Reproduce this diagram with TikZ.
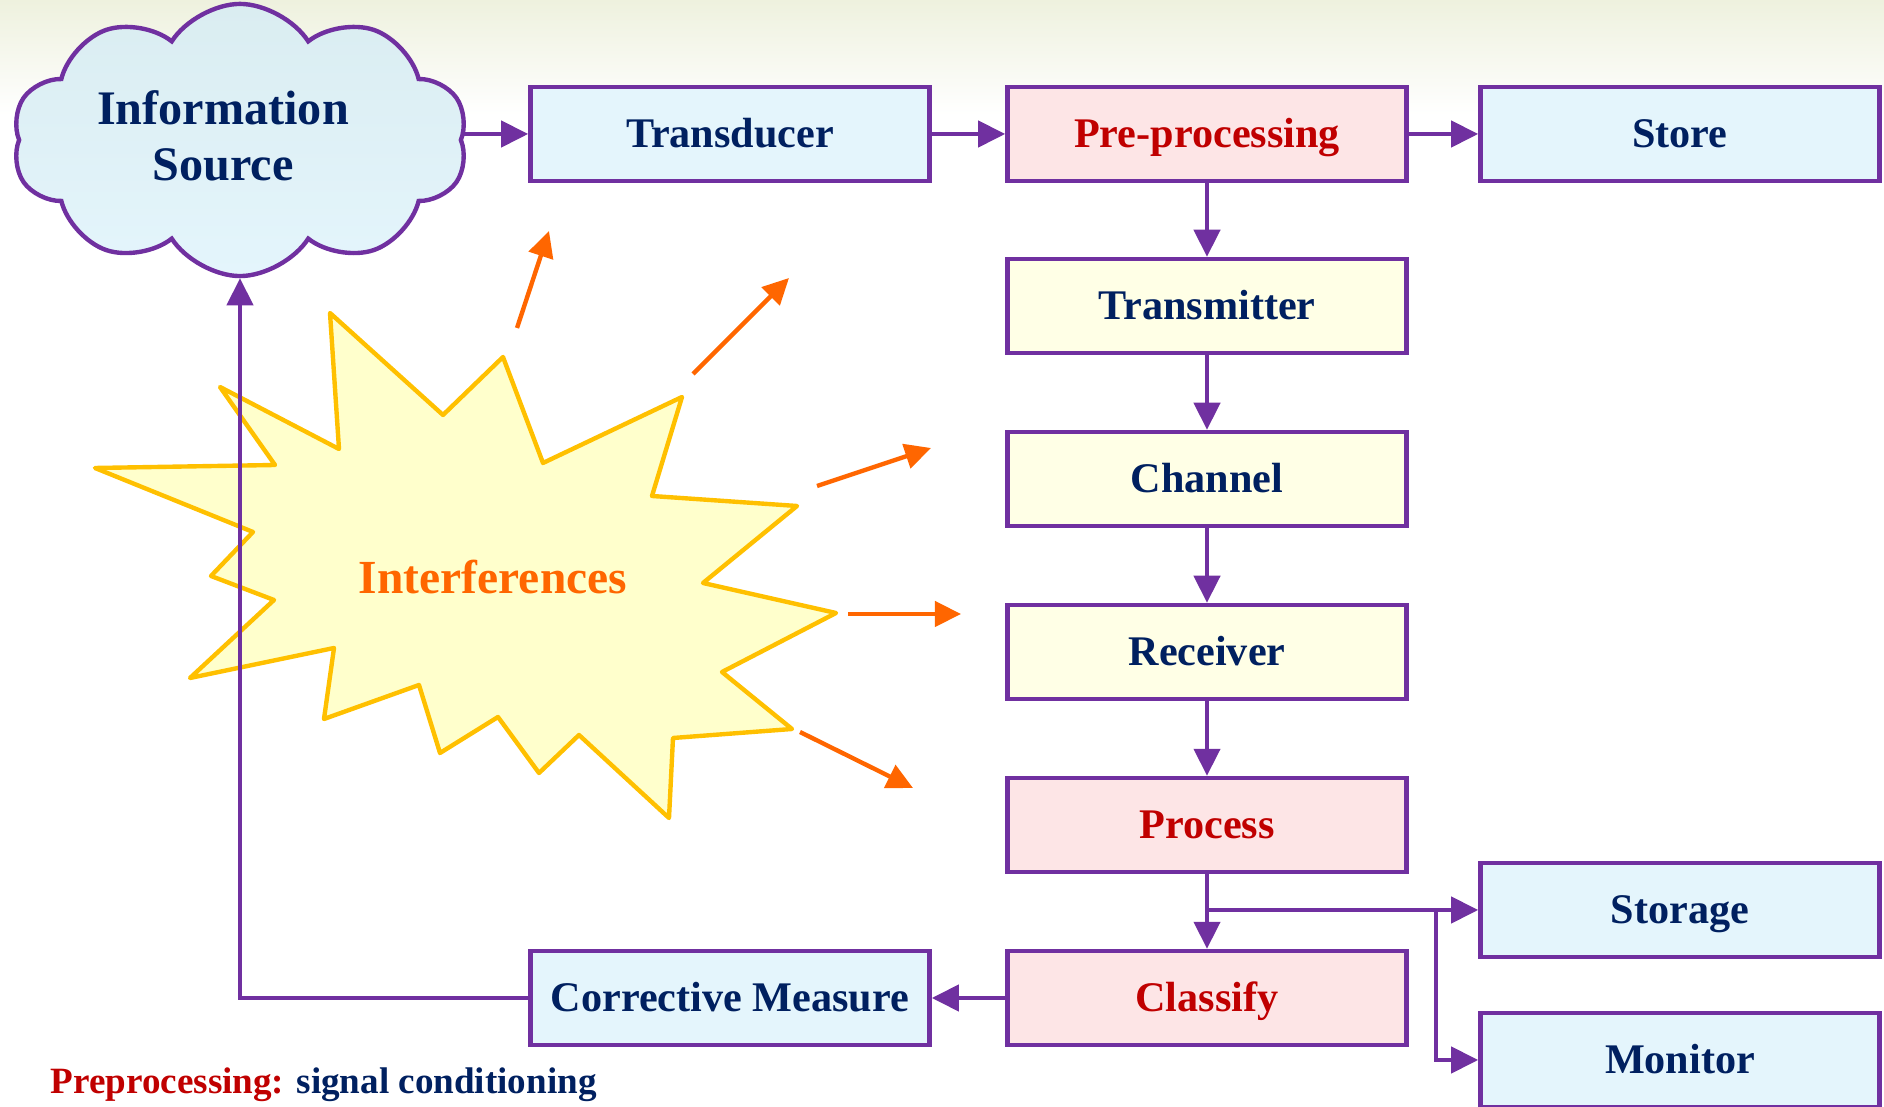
\documentclass[tikz,border=0pt]{standalone}
\usepackage{fontspec}
\setmainfont{Liberation Serif}
\usepackage{xcolor}
\usetikzlibrary{arrows.meta,positioning,shapes.symbols,calc}
\definecolor{flowpurple}{RGB}{112,48,160}
\definecolor{navytext}{RGB}{0,32,96}
\definecolor{redtext}{RGB}{192,0,0}
\definecolor{boxblue}{RGB}{228,245,252}
\definecolor{boxpink}{RGB}{253,229,230}
\definecolor{boxyellow}{RGB}{255,255,230}
\definecolor{cloudtop}{RGB}{218,237,241}
\definecolor{starfill}{RGB}{255,255,204}
\definecolor{starline}{RGB}{255,192,0}
\definecolor{noiseorange}{RGB}{255,102,0}
\definecolor{bgtop}{RGB}{238,241,222}

\begin{document}
\begin{tikzpicture}[
    x=0.01cm, y=-0.01cm,
    >={Triangle[length=0.27cm,width=0.26cm]},
    blk/.style={draw=flowpurple, fill=#1, line width=1.25pt,
        minimum width=3.99cm, minimum height=0.94cm, inner sep=0pt,
        text height=0.77em, text depth=0pt,
        font=\fontsize{12}{14}\selectfont\bfseries, text=navytext},
    redblk/.style={blk=#1, text=redtext},
    flow/.style={->, draw=flowpurple, line width=1.25pt},
    noise/.style={->, draw=noiseorange, line width=1.25pt,
        >={Triangle[length=0.26cm,width=0.25cm]}},
    srcshape/.style={cloud, cloud puffs=10, cloud puff arc=115, aspect=1.75,
        draw=flowpurple, line width=1.25pt, top color=cloudtop,
        bottom color=boxblue, minimum width=4.55cm, minimum height=2.72cm},
    srclbl/.style={align=center, font=\fontsize{13.7}{16}\selectfont\bfseries,
        text=navytext},
]
\useasboundingbox (0,0) rectangle (1884,1107);

% === BACKGROUND ===
\shade[top color=bgtop, bottom color=white, draw=none] (0,0) rectangle (1884,115);

% === INTERFERENCES (starburst) ===
\draw[draw=starline, fill=starfill, line width=1.25pt, line join=round]
    (330,313) -- (443,415) -- (503,357) -- (543,463) -- (682,397) -- (652,496)
    -- (797,506) -- (703,583) -- (836,613) -- (722,672) -- (792,729) -- (673,738)
    -- (669,818) -- (579,735) -- (539,773) -- (498,717) -- (440,753) -- (419,685)
    -- (324,719) -- (334,648) -- (190,678) -- (274,600) -- (211,576) -- (253,532)
    -- (95,468) -- (275,465) -- (220,387) -- (339,449) -- cycle;
\node[font=\fontsize{13.5}{16}\selectfont\bfseries, text=noiseorange] (intf) at (493,577) {Interferences};

% noise rays
\coordinate (n1a) at (517,328); \coordinate (n1b) at (549,231);
\coordinate (n2a) at (693,374); \coordinate (n2b) at (789,278);
\coordinate (n3a) at (817,486); \coordinate (n3b) at (931,448);
\coordinate (n4a) at (848,614); \coordinate (n4b) at (961,614);
\coordinate (n5a) at (800,732); \coordinate (n5b) at (913,788);
\draw[noise] (n1a) -- (n1b);
\draw[noise] (n2a) -- (n2b);
\draw[noise] (n3a) -- (n3b);
\draw[noise] (n4a) -- (n4b);
\draw[noise] (n5a) -- (n5b);

% === SOURCE ===
\node[srcshape] (src) at (240,140) {};
\node[srclbl] (srctxt) at (223,136) {Information\\Source};

% === TOP ROW ===
\node[blk=boxblue] (trans) at (730,134) {Transducer};
\node[redblk=boxpink] (prep) at (1207,134) {Pre-processing};
\node[blk=boxblue] (store) at (1680,134) {Store};

% === CHAIN ===
\node[blk=boxyellow] (tx) at (1207,306) {Transmitter};
\node[blk=boxyellow] (chan) at (1207,479) {Channel};
\node[blk=boxyellow] (rx) at (1207,652) {Receiver};
\node[redblk=boxpink] (proc) at (1207,825) {Process};
\node[redblk=boxpink] (class) at (1207,998) {Classify};
\node[blk=boxblue] (corr) at (730,998) {Corrective Measure};

% === OUTPUTS ===
\node[blk=boxblue] (storage) at (1680,910) {Storage};
\node[blk=boxblue] (monitor) at (1680,1060) {Monitor};

% === ARROWS ===
\draw[flow] (src.east |- trans.west) -- (trans.west);
\draw[flow] (trans) -- (prep);
\draw[flow] (prep) -- (store);
\draw[flow] (prep) -- (tx);
\draw[flow] (tx) -- (chan);
\draw[flow] (chan) -- (rx);
\draw[flow] (rx) -- (proc);
\draw[flow] (proc) -- (class);
\draw[flow] (proc.south |- storage.west) -- (storage.west);
\coordinate (tap) at ($(storage.west)+(-42,0)$);
\draw[flow] (tap) |- (monitor.west);
\draw[flow] (class) -- (corr);
\draw[flow] (corr.west) -| (src.south);

% === NOTE ===
\node[anchor=west, inner sep=0pt, font=\fontsize{10.55}{12}\selectfont\bfseries] (note) at (50,1085)
    {\textcolor{redtext}{Preprocessing:} \textcolor{navytext}{signal conditioning}};

\end{tikzpicture}
\end{document}
